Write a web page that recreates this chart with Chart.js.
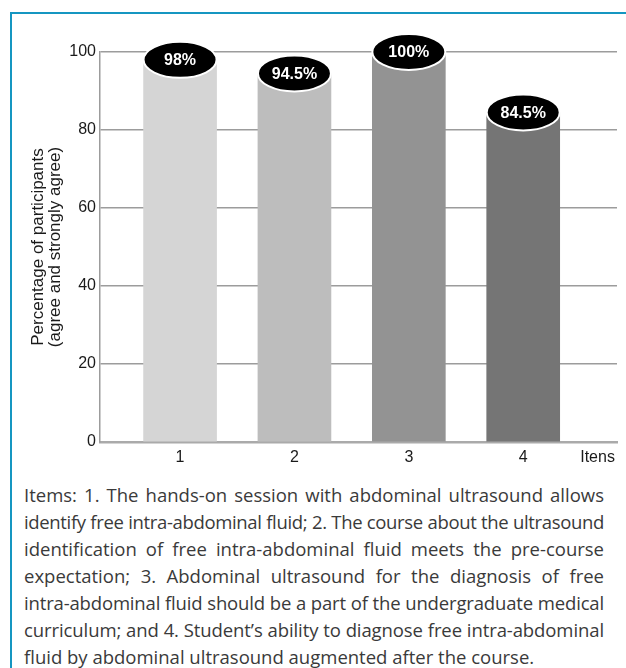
<!DOCTYPE html>
<html>
<head>
<meta charset="utf-8">
<script src="https://cdn.jsdelivr.net/npm/chart.js@4/dist/chart.umd.min.js"></script>
<style>
  html, body { margin: 0; padding: 0; background: #fff; }
  body { width: 626px; height: 668px; position: relative; overflow: hidden; }
  #frame {
    position: absolute; left: 10px; top: 12px; width: 700px; height: 700px;
    border-top: 2px solid #1596c1; border-left: 2px solid #1596c1;
  }
  #chart { position: absolute; left: 0; top: 0; }
  #caption {
    position: absolute; left: 24px; top: 481px; width: 580px;
    font-family: "Open Sans", "Noto Sans", sans-serif; font-size: 18.5px;
    line-height: 27px; color: #3a3a3a;
  }
  #caption span { display: block; white-space: nowrap; text-align: justify; text-align-last: justify; }
  #caption span.last { text-align-last: left; }
  #caption span i { font-style: normal; display: inline; }
</style>
</head>
<body>
<div id="frame"></div>
<canvas id="chart" width="626" height="475"></canvas>
<div id="caption"></div>
<script>
// Survey items on the x axis and the share of participants who agreed
const items = [1, 2, 3, 4];
const agreePct = [98, 94.5, 100, 84.5];
const yTicks = [0, 20, 40, 60, 80, 100];
const axisEndLabel = 'Itens';
const axisEndPos = 4.65;
const yTitle = ['Percentage of participants', '(agree and strongly agree)'];
const barColors = ['#d5d5d5', '#bdbdbd', '#939393', '#757575'];

const captionLines = [
  'Items: 1. The hands-on session with abdominal ultrasound allows',
  'identify free intra-abdominal fluid; 2. The course about the ultrasound',
  'identification of free intra-abdominal fluid meets the pre-course',
  'expectation; 3. Abdominal ultrasound for the diagnosis of free',
  'intra-abdominal fluid should be a part of the undergraduate medical',
  'curriculum; and 4. Student\u2019s ability to diagnose free intra-abdominal',
  'fluid by abdominal ultrasound augmented after the course.'
];

// Caption: one justified row per line; rows wider than the block get tightened
const cap = document.getElementById('caption');
const capWidth = 580;
captionLines.forEach((line, i) => {
  const s = document.createElement('span');
  if (i === captionLines.length - 1) s.className = 'last';
  const inner = document.createElement('i');
  inner.textContent = line;
  s.appendChild(inner);
  cap.appendChild(s);
  const natural = inner.getBoundingClientRect().width;
  if (natural > capWidth) {
    s.style.letterSpacing = ((capWidth - natural) / line.length - 0.02) + 'px';
  }
});

// Black oval caps carrying the percentage on top of each column
const capLabels = {
  id: 'capLabels',
  afterDatasetsDraw(chart) {
    const ctx = chart.ctx;
    const meta = chart.getDatasetMeta(0);
    meta.data.forEach((bar, i) => {
      const { x, y, width } = bar.getProps(['x', 'y', 'width'], true);
      ctx.save();
      ctx.beginPath();
      ctx.ellipse(x, y, width / 2, 18, 0, 0, Math.PI * 2);
      ctx.fillStyle = '#000';
      ctx.fill();
      ctx.lineWidth = 2;
      ctx.strokeStyle = '#fff';
      ctx.stroke();
      ctx.fillStyle = '#fff';
      ctx.font = 'bold 16px "Liberation Sans", Arial, sans-serif';
      ctx.textAlign = 'center';
      ctx.textBaseline = 'middle';
      ctx.fillText(agreePct[i] + '%', x, y + 1);
      ctx.restore();
    });
  }
};

const tickFont = { family: '"Liberation Sans", Arial, sans-serif', size: 16 };

new Chart(document.getElementById('chart'), {
  type: 'bar',
  data: {
    datasets: [{
      data: items.map((v, i) => ({ x: v, y: agreePct[i] })),
      backgroundColor: barColors,
      borderWidth: 0,
      barThickness: 73
    }]
  },
  options: {
    responsive: false,
    animation: false,
    devicePixelRatio: 1,
    layout: { padding: { top: 52, right: 9, bottom: 0, left: 0 } },
    plugins: { legend: { display: false }, tooltip: { enabled: false } },
    scales: {
      x: {
        type: 'linear',
        min: 0.3,
        max: 4.82,
        offset: false,
        grid: { display: false, drawTicks: false },
        border: { color: '#aaaaaa', width: 2.5 },
        ticks: {
          font: tickFont,
          color: '#1a1a1a',
          padding: 6,
          autoSkip: false,
          maxRotation: 0,
          callback: (v) => (v === axisEndPos ? axisEndLabel : String(v))
        },
        afterBuildTicks: (s) => {
          s.ticks = items.map(v => ({ value: v })).concat([{ value: axisEndPos }]);
        },
        afterFit: (s) => { s.height = 33; }
      },
      y: {
        min: 0,
        max: 100,
        afterBuildTicks: (s) => { s.ticks = yTicks.map(v => ({ value: v })); },
        grid: { color: '#9c9c9c', lineWidth: 1.5, drawTicks: false },
        border: { color: '#9c9c9c', width: 1.5 },
        ticks: { font: tickFont, color: '#1a1a1a', padding: 4 },
        title: {
          display: true,
          text: yTitle,
          font: { family: '"Liberation Sans", Arial, sans-serif', size: 17, lineHeight: 1.0 },
          color: '#1a1a1a',
          padding: { top: 30, bottom: 0 }
        },
        afterFit: (s) => { s.width = 100; }
      }
    }
  },
  plugins: [capLabels]
});
</script>
</body>
</html>
